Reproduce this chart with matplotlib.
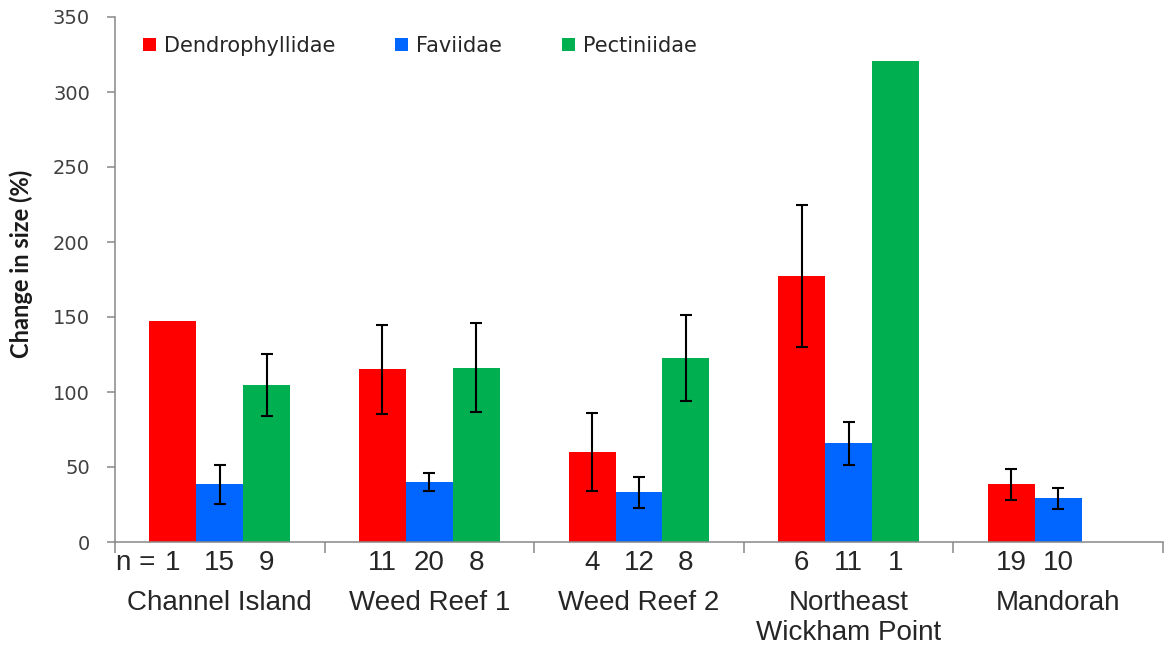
import numpy as np
import matplotlib
matplotlib.use("Agg")
import matplotlib.pyplot as plt
from matplotlib.patches import Patch
from matplotlib.transforms import blended_transform_factory

# Mean change in colony size per site and family, with error bars and sample sizes
sites = ["Channel Island", "Weed Reef 1", "Weed Reef 2", "Northeast\nWickham Point", "Mandorah"]
families = ["Dendrophyllidae", "Faviidae", "Pectiniidae"]

dendro = [147.5, 115.1, 60.2, 177.5, 38.4]
favi = [38.5, 39.8, 33.1, 65.8, 29.1]
pectin = [104.5, 116.2, 122.9, 320.4, np.nan]

dendro_err = [np.nan, 29.5, 25.9, 47.5, 10.4]
favi_err = [13.0, 6.0, 10.3, 14.4, 7.2]
pectin_err = [20.8, 29.8, 28.6, np.nan, np.nan]

dendro_n = ["1", "11", "4", "6", "19"]
favi_n = ["15", "20", "12", "11", "10"]
pectin_n = ["9", "8", "8", "1", ""]

colors = ["#FF0000", "#0066FF", "#00B050"]
values = [dendro, favi, pectin]
errors = [dendro_err, favi_err, pectin_err]
counts = [dendro_n, favi_n, pectin_n]

fig = plt.figure(figsize=(11.65, 6.53), dpi=100)
ax = fig.add_axes([115 / 1165, 111 / 653, 1048 / 1165, 525 / 653])

x = np.arange(len(sites))
width = 0.224
trans = blended_transform_factory(ax.transData, ax.transAxes)

for i, (vals, errs, ns, col) in enumerate(zip(values, errors, counts, colors)):
    pos = x + (i - 1) * width
    ax.bar(pos, vals, width, color=col, edgecolor="none", zorder=2)
    ax.errorbar(pos, vals, yerr=errs, fmt="none", ecolor="black",
                elinewidth=1.5, capsize=4.5, capthick=1.5, zorder=3)
    for p, n in zip(pos, ns):
        ax.text(p, -0.04, n, transform=trans, ha="center", va="center",
                fontsize=20, family="Liberation Sans", color="#262626")

# "n =" prefix ahead of the first count
ax.annotate("n = ", xy=(x[0] - width, -0.04), xycoords=trans,
            xytext=(-7, 0), textcoords="offset points", ha="right", va="center",
            fontsize=20, family="Liberation Sans", color="#262626")

# site names under each group
for xi, name in zip(x, sites):
    ax.text(xi, -0.092, name, transform=trans, ha="center", va="top",
            fontsize=20, family="Liberation Sans", color="#262626", linespacing=1.17)

ax.set_xlim(-0.5, len(sites) - 0.5)
ax.set_ylim(0, 350)
ax.set_yticks(range(0, 351, 50))
ax.set_xticks([])
ax.set_xticks(np.arange(-0.5, len(sites)), minor=True)
ax.tick_params(axis="x", which="minor", length=8, width=1.1, color="#888888", direction="out")
ax.tick_params(axis="y", length=6, width=1.1, color="#888888", pad=12,
               labelsize=14, labelcolor="#404040")

for side in ["top", "right"]:
    ax.spines[side].set_visible(False)
for side in ["left", "bottom"]:
    ax.spines[side].set_color("#888888")
    ax.spines[side].set_linewidth(1.1)

ax.set_ylabel("Change in size (%)", fontsize=17, fontweight="bold",
              family="Lato", color="#1a1a1a")
ax.yaxis.set_label_coords(-0.078, 0.53)

handles = [Patch(facecolor=c, edgecolor="none") for c in colors]
ax.legend(handles, families, loc="upper left", bbox_to_anchor=(0.009, 1.0),
          ncol=3, frameon=False, fontsize=15, handlelength=0.62, handleheight=0.62,
          handletextpad=0.4, columnspacing=2.85, labelcolor="#262626")

fig.savefig("out.png", dpi=100)
